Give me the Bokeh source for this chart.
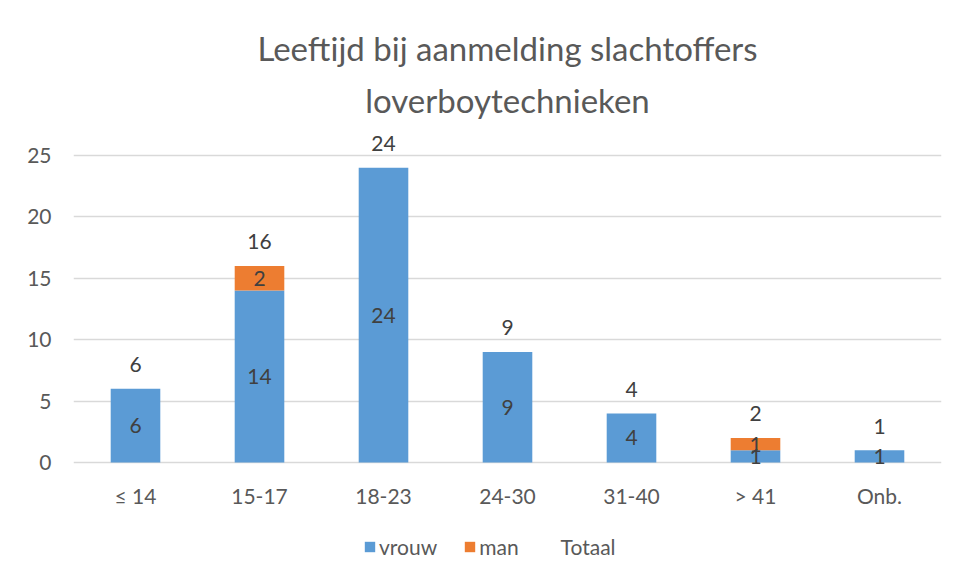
from bokeh.plotting import figure
from bokeh.models import (ColumnDataSource, LabelSet, Legend, LegendItem, Title,
                          FixedTicker)
from bokeh.core.properties import value
from bokeh.embed import file_html
from bokeh.resources import INLINE

categories = ["≤ 14", "15-17", "18-23", "24-30", "31-40", "> 41", "Onb."]
vrouw = [6, 14, 24, 9, 4, 1, 1]
man = [0, 2, 0, 0, 0, 1, 0]
totaal = [6, 16, 24, 9, 4, 2, 1]
y_ticks = [0, 5, 10, 15, 20, 25]

BLUE = "#5B9BD5"
ORANGE = "#ED7D31"
TXT = "#595959"
LBL = "#404040"
GRID = "#D9D9D9"
FONT = "Lato"
FS = "21px"

source = ColumnDataSource(dict(
    cat=categories, vrouw=vrouw, man=man, totaal=totaal,
    vrouw_mid=[v / 2 for v in vrouw],
    vrouw_txt=[str(v) for v in vrouw],
    tot_txt=[str(t) for t in totaal],
))
man_idx = [i for i, m in enumerate(man) if m > 0]
man_src = ColumnDataSource(dict(
    cat=[categories[i] for i in man_idx],
    y=[vrouw[i] + man[i] / 2 for i in man_idx],
    txt=[str(man[i]) for i in man_idx],
))

# frame extends below zero so the legend can sit inside it
p = figure(x_range=categories, y_range=(-9.28, 27.03),
           frame_width=868, frame_height=446,
           output_backend="svg", toolbar_location=None, title=None,
           min_border_left=73, min_border_right=12, min_border_top=130,
           min_border_bottom=2)
p.x_range.range_padding = 0

rs = p.vbar_stack(["vrouw", "man"], x="cat", width=0.4, source=source,
                  color=[BLUE, ORANGE], line_color=None)
r_tot = p.vbar(x="cat", top="totaal", width=0.4, source=source,
               fill_alpha=0, line_alpha=0)

common = dict(text_font_size=FS, text_color=LBL, text_align="center",
              text_font=value(FONT), text_baseline="middle")
p.add_layout(LabelSet(x="cat", y="vrouw_mid", text="vrouw_txt", source=source,
                      **common))
p.add_layout(LabelSet(x="cat", y="y", text="txt", source=man_src, **common))
p.add_layout(LabelSet(x="cat", y="totaal", text="tot_txt", source=source,
                      y_offset=24, **common))

p.add_layout(Title(text="loverboytechnieken", align="center",
                   text_font_size="33px", text_color=TXT, text_font=FONT,
                   text_font_style="normal", standoff=21), "above")
p.add_layout(Title(text="Leeftijd bij aanmelding slachtoffers", align="center",
                   text_font_size="33px", text_color=TXT, text_font=FONT,
                   text_font_style="normal", standoff=0), "above")

p.yaxis.ticker = FixedTicker(ticks=y_ticks)
p.yaxis.axis_line_color = None
p.yaxis.major_tick_line_color = None
p.yaxis.minor_tick_line_color = None
p.yaxis.major_tick_out = 0
p.yaxis.major_label_standoff = 22
p.yaxis.major_label_text_font_size = FS
p.yaxis.major_label_text_color = TXT
p.yaxis.major_label_text_font = FONT

p.xaxis.fixed_location = 0
p.xaxis.axis_line_color = None
p.xaxis.major_tick_line_color = None
p.xaxis.major_tick_out = 0
p.xaxis.major_label_standoff = 20
p.xaxis.major_label_text_font_size = FS
p.xaxis.major_label_text_color = TXT
p.xaxis.major_label_text_font = FONT

p.xgrid.grid_line_color = None
p.ygrid.grid_line_color = GRID
p.ygrid.grid_line_width = 1.5
p.outline_line_color = None

legend = Legend(items=[LegendItem(label="vrouw", renderers=[rs[0]]),
                       LegendItem(label="man", renderers=[rs[1]]),
                       LegendItem(label="Totaal", renderers=[r_tot])],
                orientation="horizontal", location=(284, 11),
                label_text_font_size=FS, label_text_color=TXT,
                label_text_font=FONT, glyph_width=13, glyph_height=13,
                label_standoff=3, spacing=26, border_line_alpha=0,
                background_fill_alpha=0, padding=6, margin=0)
p.add_layout(legend, "center")

open("out.html", "w").write(file_html(p, INLINE))
